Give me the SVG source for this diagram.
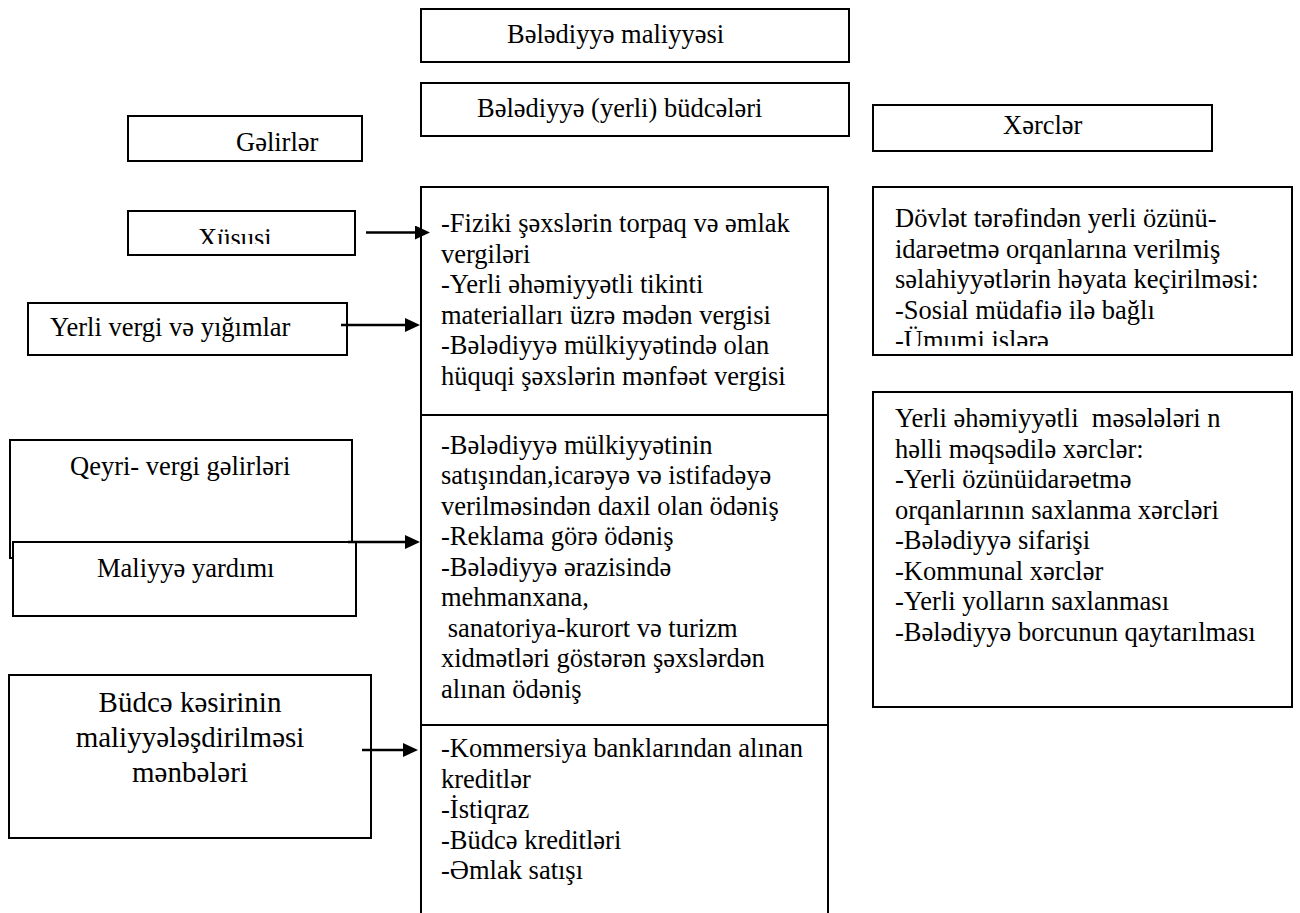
<svg xmlns="http://www.w3.org/2000/svg" width="1300" height="913" viewBox="0 0 1300 913" font-family="'Liberation Serif', 'Times New Roman', Tinos, 'Nimbus Roman', 'DejaVu Serif', serif">
<style>
.box{fill:#fff;stroke:#000;stroke-width:2}
.ln{fill:none;stroke:#000;stroke-width:2}
.arr{fill:none;stroke:#000;stroke-width:2.5}
text{font-family:'Liberation Serif', 'Times New Roman', Tinos, 'Nimbus Roman', 'DejaVu Serif', serif;font-size:26.5px;fill:#000;white-space:pre}
.big{font-size:29px}
</style>
<defs>
<marker id="ah" viewBox="0 0 15 14" refX="5" refY="7" markerWidth="15" markerHeight="14" markerUnits="userSpaceOnUse" orient="auto">
<path d="M0,0 L15,7 L0,14 z" fill="#000"/>
</marker>
<clipPath id="clipX"><rect x="128" y="211" width="227" height="33"/></clipPath>
<clipPath id="clipD"><rect x="873" y="187" width="419" height="159"/></clipPath>
</defs>
<rect width="1300" height="913" fill="#fff"/>

<g id="n-maliyye">
<rect class="box" x="421" y="9" width="428" height="53"/>
<text x="507" y="43">Bələdiyyə maliyyəsi</text>
</g>
<g id="n-budceler">
<rect class="box" x="421" y="83" width="428" height="53"/>
<text x="477" y="117">Bələdiyyə (yerli) büdcələri</text>
</g>
<g id="n-gelirler">
<rect class="box" x="128" y="116" width="234" height="45"/>
<text x="236" y="151">Gəlirlər</text>
</g>
<g id="n-xercler">
<rect class="box" x="873" y="105" width="339" height="46"/>
<text x="1003" y="134">Xərclər</text>
</g>
<g id="n-xususi">
<rect class="box" x="128" y="211" width="227" height="44"/>
<text x="198" y="247" clip-path="url(#clipX)">Xüsusi</text>
</g>
<g id="n-yerli-vergi">
<rect class="box" x="28" y="303" width="319" height="52"/>
<text x="50" y="336">Yerli vergi və yığımlar</text>
</g>
<g id="n-qeyri">
<rect class="box" x="10" y="440" width="342" height="118"/>
<text x="70" y="475">Qeyri- vergi gəlirləri</text>
</g>
<g id="n-yardim">
<rect class="box" x="13" y="542" width="343" height="74"/>
<text x="97" y="577">Maliyyə yardımı</text>
</g>
<g id="n-kesir">
<rect class="box" x="9" y="675" width="362" height="163"/>
<text class="big" x="190" y="712" text-anchor="middle">Büdcə kəsirinin</text>
<text class="big" x="190" y="747" text-anchor="middle">maliyyələşdirilməsi</text>
<text class="big" x="190" y="782" text-anchor="middle">mənbələri</text>
</g>

<g id="n-middle">
<path class="ln" d="M421,913 V187 H828 V913 M421,415 H828 M421,725 H828"/>
<g id="n-vergiler">
<text x="441" y="232">-Fiziki şəxslərin torpaq və əmlak</text>
<text x="441" y="262.5">vergiləri</text>
<text x="441" y="293">-Yerli əhəmiyyətli tikinti</text>
<text x="441" y="323.5">materialları üzrə mədən vergisi</text>
<text x="441" y="354">-Bələdiyyə mülkiyyətində olan</text>
<text x="441" y="384.5">hüquqi şəxslərin mənfəət vergisi</text>
</g>
<g id="n-odenisler">
<text x="441" y="453.5">-Bələdiyyə mülkiyyətinin</text>
<text x="441" y="484">satışından,icarəyə və istifadəyə</text>
<text x="441" y="514.5">verilməsindən daxil olan ödəniş</text>
<text x="441" y="545">-Reklama görə ödəniş</text>
<text x="441" y="575.5">-Bələdiyyə ərazisində</text>
<text x="441" y="606">mehmanxana,</text>
<text x="441" y="636.5"> sanatoriya-kurort və turizm</text>
<text x="441" y="667">xidmətləri göstərən şəxslərdən</text>
<text x="441" y="697.5">alınan ödəniş</text>
</g>
<g id="n-kreditler">
<text x="441" y="757">-Kommersiya banklarından alınan</text>
<text x="441" y="787.5">kreditlər</text>
<text x="441" y="818">-İstiqraz</text>
<text x="441" y="848.5">-Büdcə kreditləri</text>
<text x="441" y="879">-Əmlak satışı</text>
</g>
</g>

<g id="n-dovlet">
<rect class="box" x="873" y="187" width="419" height="168"/>
<g clip-path="url(#clipD)">
<text x="895" y="227">Dövlət tərəfindən yerli özünü-</text>
<text x="895" y="257.5">idarəetmə orqanlarına verilmiş</text>
<text x="895" y="288">səlahiyyətlərin həyata keçirilməsi:</text>
<text x="895" y="318.5">-Sosial müdafiə ilə bağlı</text>
<text x="895" y="349">-Ümumi islərə</text>
</g>
</g>
<g id="n-yerli-xercler">
<rect class="box" x="873" y="392" width="419" height="315"/>
<text x="895" y="427">Yerli əhəmiyyətli  məsələləri n</text>
<text x="895" y="457.5">həlli məqsədilə xərclər:</text>
<text x="895" y="488">-Yerli özünüidarəetmə</text>
<text x="895" y="518.5">orqanlarının saxlanma xərcləri</text>
<text x="895" y="549">-Bələdiyyə sifarişi</text>
<text x="895" y="579.5">-Kommunal xərclər</text>
<text x="895" y="610">-Yerli yolların saxlanması</text>
<text x="895" y="640.5">-Bələdiyyə borcunun qaytarılması</text>
</g>

<g id="connectors">
<line class="arr" x1="366" y1="232.5" x2="420" y2="232.5" marker-end="url(#ah)"/>
<line class="arr" x1="341" y1="325" x2="410" y2="325" marker-end="url(#ah)"/>
<line class="arr" x1="348" y1="542" x2="410" y2="542" marker-end="url(#ah)"/>
<line class="arr" x1="362" y1="750" x2="408" y2="750" marker-end="url(#ah)"/>
</g>
</svg>
